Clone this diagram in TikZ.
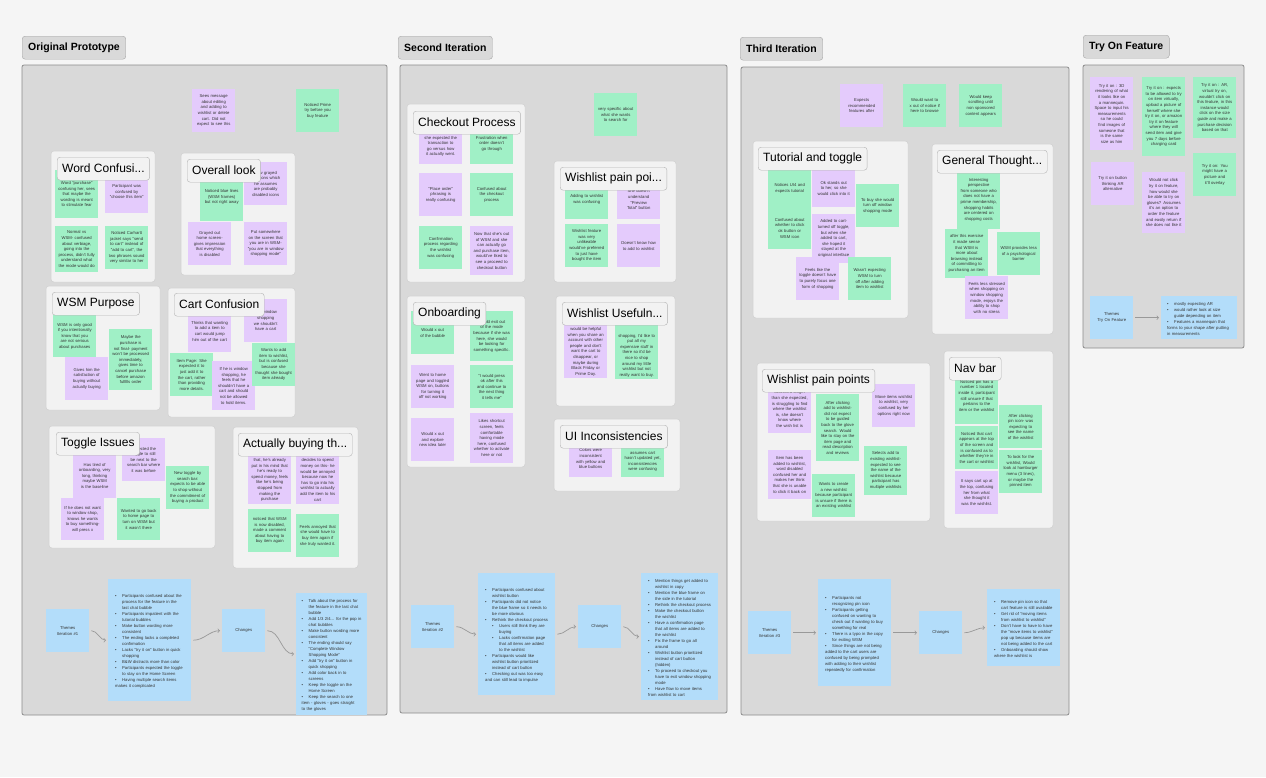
\documentclass[tikz,border=0pt]{standalone}
\usepackage{fontspec}
\setmainfont{Liberation Sans}

\definecolor{canvas}{HTML}{F5F5F5}
\definecolor{framegray}{HTML}{D9D9D9}
\definecolor{clustergray}{HTML}{F2F2F2}
\definecolor{notepurple}{HTML}{E4CBFC}
\definecolor{notegreen}{HTML}{A0F0C6}
\definecolor{noteblue}{HTML}{B3DDFA}

\hyphenpenalty=10000
\exhyphenpenalty=10000

% bullet items for the blue summary notes
\newcommand{\bitem}{\par\hangindent=7pt\hangafter=1\noindent\makebox[7pt][l]{\textbullet}}
\newcommand{\subbitem}{\par\hangindent=14pt\hangafter=1\noindent\hspace*{7pt}\makebox[7pt][l]{\textbullet}}
% text kept at the bottom of a note that sits under a cluster title
\newcommand{\lowtext}[2]{\parbox[c][#1][b]{37pt}{\centering #2}}

\begin{document}
\begin{tikzpicture}[
    x=1pt, y=-1pt,
    frame/.style={draw=black!45, fill=framegray, rounded corners=2pt, line width=0.8pt},
    cluster/.style={draw=black!18, fill=clustergray, rounded corners=3pt, line width=0.5pt},
    header/.style={anchor=north west, draw=black!35, fill=framegray, rounded corners=3pt,
        minimum height=23pt, inner xsep=6pt, font=\fontsize{10.5}{12}\selectfont\bfseries},
    clabel/.style={anchor=north west, draw=black!30, fill=clustergray, rounded corners=3pt,
        minimum height=23pt, inner xsep=5pt, font=\fontsize{12}{14}\selectfont},
    note/.style={anchor=north west, minimum width=43pt, minimum height=43pt, text width=37pt,
        inner xsep=3pt, inner ysep=2pt, align=center, font=\fontsize{4.2}{5.6}\selectfont, text=black!80},
    pnote/.style={note, fill=notepurple},
    gnote/.style={note, fill=notegreen},
    bnote/.style={note, fill=noteblue},
    blist/.style={anchor=north west, fill=noteblue, align=left, inner xsep=7pt,
        font=\fontsize{4.2}{6}\selectfont, text=black!80},
    link/.style={->, draw=black!40, line width=0.7pt, shorten <=2pt, shorten >=2pt}
]
\useasboundingbox (0,0) rectangle (1266,777);
\fill[canvas] (0,0) rectangle (1266,777);

%%%%%%%%%%%%%%%% Original Prototype
\draw[frame] (22,65) rectangle (387,715);
\node[header] (hA) at (22,36) {Original Prototype};

\node[pnote] (a1) at (192,89) {Sees message about editing and adding to wishlist or delete cart. Did not expect to see this};
\node[gnote] (a2) at (296,89) {Noticed Prime try before you buy feature};

% Word confusion
\draw[cluster] (51,151) rectangle (155,282);
\node[gnote, minimum height=48pt] (a3) at (55,170) {Word "purchase" confusing her, sees that maybe the wording is meant to stimulate fear};
\node[pnote] (a4) at (105,170) {Participant was confused by "choose this item"};
\node[gnote, minimum height=46pt] (a5) at (55,226) {Normal vs WSM- confused about verbiage, going into the process, didn't fully understand what the mode would do};
\node[gnote] (a6) at (105,226) {Noticed Carhartt jacket says "send to cart" instead of "add to cart", the two phrases sound very similar to her};
\node[clabel] (t1) at (57,157) {Word Confusi...};

% Overall look
\draw[cluster] (181,153) rectangle (295,275);
\node[gnote, minimum height=48pt] (a7) at (200,173) {Noticed blue lines (WSM frames) but not right away};
\node[pnote] (a8) at (244,162) {Saw grayed out icons which he assumes are probably disabled icons};
\node[pnote] (a9) at (188,222) {Grayed out home screen- gives impression that everything is disabled};
\node[pnote] (a10) at (244,222) {Put somewhere on the screen that you are in WSM- "you are in window shopping mode"};
\node[clabel] (t2) at (187,159) {Overall look};

% WSM purpose
\draw[cluster] (46,286) rectangle (160,410);
\node[gnote, minimum height=42pt] (a11) at (53,315) {WSM is only good if you intentionally know that you are not serious about purchases};
\node[pnote] (a12) at (65,357) {Gives him the satisfaction of buying without actually buying};
\node[gnote, minimum height=61pt] (a13) at (109,329) {Maybe the purchase is not final- payment won't be processed immediately, gives time to cancel purchase before amazon fulfills order};
\node[clabel] (t3) at (52,292) {WSM Purpose};

% Cart confusion
\draw[cluster] (168,288) rectangle (295,417);
\node[pnote, minimum height=42pt] (a14) at (188,310) {Thinks that wanting to add a item to cart would jump him out of the cart};
\node[pnote] (a15) at (244,299) {If in window shopping we shouldn't have a cart};
\node[gnote] (a16) at (170,353) {Item Page: She expected it to just add it to the cart, rather than providing more details.};
\node[pnote, minimum height=49pt] (a17) at (212,361) {If he is window shopping, he feels that he shouldn't have a cart and should not be allowed to hold items.};
\node[gnote] (a18) at (252,343) {Wants to add item to wishlist, but is confused because she thought she bought item already};
\node[clabel] (t4) at (174,293) {Cart Confusion};

% Toggle issues
\draw[cluster] (49,426) rectangle (215,548);
\node[pnote, minimum height=45pt] (a19) at (73,453) {Has tired of onboarding, very long, thinking maybe WSM is the baseline};
\node[pnote] (a20) at (122,438) {Expected the toggle to still be next to the search bar where it was before};
\node[gnote] (a21) at (166,466) {New toggle by search bar: expects to be able to shop without the commitment of buying a product};
\node[pnote, minimum height=42pt] (a22) at (61,498) {If he does not want to window shop, knows he wants to buy something- will press x};
\node[gnote, minimum height=42pt] (a23) at (117,498) {Wanted to go back to home page to turn on WSM but it wasn't there};
\node[clabel] (t5) at (56,432) {Toggle Issues};

% Actually buying
\draw[cluster] (233,427) rectangle (358,568);
\node[pnote, minimum height=71pt] (a24) at (248,433) {\lowtext{65pt}{that, he's already put in his mind that he's ready to spend money, feels like he's being stopped from making the purchase}};
\node[pnote, minimum height=71pt] (a25) at (296,433) {\lowtext{65pt}{decides to spend money on this- he would be annoyed because now he has to go into his wishlist to actually add the item to his cart}};
\node[gnote] (a26) at (248,509) {noticed that WSM is now disabled, made a comment about having to buy item again};
\node[gnote] (a27) at (296,514) {Feels annoyed that she would have to buy item again if she truly wanted it.};
\node[clabel] (t6) at (238,433) {Actually buying th...};

% Themes -> changes
\node[bnote] (ath) at (46,609) {Themes\\Iteration \#1};
\node[blist, text width=69pt, minimum height=122pt] (alist) at (108,579) {%
  \bitem Participants confused about the process for the feature in the last chat bubble
  \bitem Participants impatient with the tutorial bubbles
  \bitem Make button wording more consistent
  \bitem The ending lacks a completed confirmation
  \bitem Lacks "try it on" button in quick shopping
  \bitem B\&W distracts more than color
  \bitem Participants expected the toggle to stay on the Home Screen
  \bitem Having multiple search items makes it complicated};
\node[bnote] (achg) at (222,609) {Changes};
\node[blist, text width=60pt, inner xsep=5.5pt, minimum height=108pt] (aout) at (296,593) {%
  \bitem Talk about the process for the feature in the last chat bubble
  \bitem Add 1/3 2/4... for the pop in chat bubbles
  \bitem Make button wording more consistent
  \bitem The ending should say "Complete Window Shopping Mode"
  \bitem Add "try it on" button in quick shopping
  \bitem Add color back in to screens
  \bitem Keep the toggle on the Home Screen
  \bitem Keep the search to one item - gloves - goes straight to the gloves};
\draw[link] (ath.east) to[out=0,in=180] (alist.west);
\draw[link] (alist.east) to[out=0,in=180] (achg.west);
\draw[link] (achg.east) to[out=0,in=180] (aout.west);

%%%%%%%%%%%%%%%% Second Iteration
\draw[frame] (400,65) rectangle (727,713);
\node[header] (hB) at (398,36) {Second Iteration};

\node[gnote] (b1) at (594,93) {very specific about what she wants to search for};

% Checkout process
\draw[cluster] (407,104) rectangle (525,282);
\node[pnote, minimum height=41pt] (b2) at (419,123) {Gap between how she expected the transaction to go versus how it actually went.};
\node[gnote, minimum height=41pt] (b3) at (470,123) {Frustration when order doesn't go through};
\node[pnote] (b4) at (419,173) {"Place order" phrasing is really confusing};
\node[gnote] (b5) at (470,173) {Confused about the checkout process};
\node[gnote] (b6) at (419,226) {Confirmation process regarding the wishlist was confusing};
\node[pnote, minimum height=49pt] (b7) at (470,226) {Now that she's out of WSM and she can actually go and purchase item, would've liked to see a proceed to checkout button};
\node[clabel] (t7) at (413,111) {Checkout Process};

% Wishlist pain points
\draw[cluster] (554,161) rectangle (676,282);
\node[gnote, minimum height=39pt] (b8) at (565,180) {Adding to wishlist was confusing};
\node[pnote, minimum height=39pt] (b9) at (617,180) {She doesn't understand "Preview Total" button};
\node[gnote] (b10) at (565,224) {Wishlist feature was very unlikeable would've preferred to just have bought the item};
\node[pnote] (b11) at (617,224) {Doesn't know how to add to wishlist};
\node[clabel] (t8) at (560,167) {Wishlist pain poi...};

% Onboarding
\draw[cluster] (407,296) rectangle (525,467);
\node[gnote] (b12) at (411,311) {Would x out of the bubble};
\node[gnote, minimum height=50pt] (b13) at (470,311) {Would exit out of the mode because if she was here, she would be looking for something specific.};
\node[pnote] (b14) at (411,365) {Went to home page and toggled WSM on, buttons for turning it off not working};
\node[gnote] (b15) at (470,365) {"I would press ok after this and continue to the next thing it tells me"};
\node[pnote] (b16) at (411,418) {Would x out and explore new idea later};
\node[pnote, minimum height=50pt] (b17) at (470,413) {Likes shortcut screen, feels comfortable having mode here, confused whether to activate here or not};
\node[clabel] (t9) at (413,302) {Onboarding};

% Wishlist usefulness
\draw[cluster] (556,296) rectangle (675,406);
\node[pnote, minimum height=67pt] (b18) at (564,311) {\lowtext{62pt}{would be helpful when you share an account with other people and don't want the cart to disappear, or maybe during Black Friday or Prime Day.}};
\node[gnote, minimum height=68pt] (b19) at (615,311) {\lowtext{63pt}{shopping, I'd like to put all my expensive stuff in there so it'd be nice to shop around my little wishlist but not really want to buy.}};
\node[clabel] (t10) at (562,302) {Wishlist Usefuln...};

% UI inconsistencies
\draw[cluster] (554,419) rectangle (680,491);
\node[pnote, minimum height=37pt] (b20) at (569,440) {Colors were inconsistent with yellow and blue buttons};
\node[gnote, minimum height=37pt] (b21) at (621,440) {When she assumes cart hasn't updated yet, inconsistencies were confusing};
\node[clabel] (t11) at (560,425) {UI Inconsistencies};

% Themes -> changes
\node[bnote] (bth) at (411,605) {Themes\\Iteration \#2};
\node[blist, text width=63pt, minimum height=122pt] (blist) at (478,573) {%
  \bitem Participants confused about wishlist button
  \bitem Participants did not notice the blue frame so it needs to be more obvious
  \bitem Rethink the checkout process
  \subbitem Users still think they are buying
  \subbitem Lacks confirmation page that all items are added to the wishlist
  \bitem Participants would like wishlist button prioritized instead of cart button
  \bitem Checking out was too easy and can still lead to impulse};
\node[bnote] (bchg) at (578,605) {Changes};
\node[blist, text width=63pt, minimum height=122pt] (bout) at (641,573) {%
  \bitem Mention things get added to wishlist in copy
  \bitem Mention the blue frame on the side in the tutorial
  \bitem Rethink the checkout process
  \bitem Make the checkout button the wishlist
  \bitem Have a confirmation page that all items are added to the wishlist
  \bitem Fix the frame to go all around
  \bitem Wishlist button prioritized instead of cart button (hidden)
  \bitem To proceed to checkout you have to exit window shopping mode
  \bitem Have flow to move items from wishlist to cart};
\draw[link] (bth.east) to[out=0,in=180] (blist.west);
\draw[link] (blist.east) to[out=0,in=180] (bchg.west);
\draw[link] (bchg.east) to[out=0,in=180] (bout.west);

%%%%%%%%%%%%%%%% Third Iteration
\draw[frame] (741,67) rectangle (1069,715);
\node[header] (hC) at (740,37) {Third Iteration};

\node[pnote] (c1) at (840,84) {Expects recommended features after};
\node[gnote] (c2) at (903,84) {Would want to x out of notice if here to browse};
\node[gnote] (c3) at (959,84) {Would keep scrolling until non sponsored content appears};

% Tutorial and toggle
\draw[cluster] (753,141) rectangle (908,318);
\node[gnote, minimum height=38pt] (c4) at (768,169) {Notices UI4 and expects tutorial};
\node[gnote, minimum height=42pt] (c5) at (768,207) {Confused about whether to click ok button or WSM icon};
\node[pnote, minimum height=38pt] (c6) at (812,169) {Ok stands out to her, so she would click into it};
\node[gnote] (c7) at (856,184) {To buy she would turn off window shopping mode};
\node[pnote, minimum height=49pt] (c8) at (812,214) {Added to cart- turned off toggle, but when she added to cart, she hoped it stayed at the original interface};
\node[pnote] (c9) at (796,257) {Feels like the toggle doesn't have to purely focus one form of shopping};
\node[gnote] (c10) at (848,257) {Wasn't expecting WSM to turn off after adding item to wishlist};
\node[clabel] (t12) at (758,147) {Tutorial and toggle};

% General thoughts
\draw[cluster] (932,144) rectangle (1053,334);
\node[gnote, minimum height=59pt] (c11) at (957,170) {Interesting perspective from someone who does not have a prime membership, shopping habits are centered on shopping costs};
\node[gnote, minimum height=49pt] (c12) at (945,229) {after this exercise it made sense that WSM is more about browsing instead of committing to purchasing an item};
\node[gnote] (c13) at (997,232) {WSM provides less of a psychological barrier};
\node[pnote] (c14) at (965,276) {Feels less stressed when shopping on window shopping mode, enjoys the ability to shop with no stress};
\node[clabel] (t13) at (937,150) {General Thought...};

% Wishlist pain points
\draw[cluster] (757,363) rectangle (930,521);
\node[pnote, minimum height=48pt] (c15) at (768,385) {Searched longer than she expected, is struggling to find where the wishlist is, she doesn't know where the wish list is};
\node[gnote, minimum height=67pt] (c16) at (816,394) {After clicking add to wishlist- did not expect to be guided back to the glove search. Would like to stay on the item page and read description and reviews};
\node[pnote] (c17) at (872,384) {Move items wishlist to wishlist, very confused by her options right now};
\node[pnote, minimum height=49pt] (c18) at (768,450) {Item has been added to wishlist, word disabled confused her and makes her think that she is unable to click it back on};
\node[gnote, minimum height=49pt] (c20) at (864,446) {Selects add to existing wishlist- expected to see the name of the wishlist because participant has multiple wishlists};
\node[gnote] (c19) at (812,474) {Wants to create a new wishlist because participant is unsure if there is an existing wishlist};
\node[clabel] (t14) at (762,369) {Wishlist pain points};

% Nav bar
\draw[cluster] (944,351) rectangle (1053,528);
\node[gnote, minimum height=57pt] (c21) at (955,367) {Noticed pin has a number 1 located inside it, participant still unsure if that pertains to the item or the wishlist};
\node[gnote] (c22) at (999,405) {After clicking pin icon- was expecting to see the name of the wishlist};
\node[gnote] (c23) at (955,426) {Noticed that cart appears at the top of the screen and is confused as to whether they're in the cart or wishlist};
\node[gnote] (c24) at (999,450) {To look for the wishlist, Would look at hamburger menu (3 lines), or maybe the pinned item};
\node[pnote] (c25) at (955,471) {It says cart up at the top, confusing her from what she thought it was the wishlist.};
\node[clabel] (t15) at (949,357) {Nav bar};

% Themes -> changes
\node[bnote] (cth) at (748,611) {Themes\\Iteration \#3};
\node[blist, text width=59pt, minimum height=107pt] (clist) at (818,579) {%
  \bitem Participants not recognizing pin icon
  \bitem Participants getting confused on wanting to check out if wanting to buy something for real
  \bitem There is a typo in the copy for exiting WSM
  \bitem Since things are not being added to the cart users are confused by being prompted with adding to their wishlist repeatedly for confirmation};
\node[bnote] (cchg) at (919,611) {Changes};
\node[blist, text width=59pt, minimum height=77pt] (cout) at (987,589) {%
  \bitem Remove pin icon so that cart feature is still available
  \bitem Get rid of "moving items from wishlist to wishlist"
  \bitem Don't have to have to have the "move items to wishlist" pop up because items are not being added to the cart
  \bitem Onboarding should show where the wishlist is};
\draw[link] (cth.east) to[out=0,in=180] (clist.west);
\draw[link] (clist.east) to[out=0,in=180] (cchg.west);
\draw[link] (cchg.east) to[out=0,in=180] (cout.west);

%%%%%%%%%%%%%%%% Try On Feature
\draw[frame] (1083,65) rectangle (1244,348);
\node[header] (hD) at (1083,35) {Try On Feature};

\node[pnote, minimum height=73pt] (d1) at (1090,77) {Try it on : 3D rendering of what it looks like on a mannequin. Space to input his measurements so he could find images of someone that is the same size as him};
\node[gnote, minimum height=79pt] (d2) at (1142,77) {Try it on : expects to be allowed to try on item virtually, upload a picture of herself where she try it on, or amazon try it on feature where they will send item and give you 7 days before charging card};
\node[gnote, minimum height=61pt] (d3) at (1193,77) {Try it on : AR, virtual try on, wouldn't click on this feature, in this instance would click on the size guide and make a purchase decision based on that};
\node[pnote] (d4) at (1091,162) {Try it on button thinking AR alternative};
\node[pnote, minimum height=61pt] (d5) at (1142,172) {Would not click try it on feature, how would she be able to try on gloves? Assumes it's an option to order the feature and easily return if she does not like it};
\node[gnote] (d6) at (1193,153) {Try it on: You might have a picture and it'll overlay};

\node[bnote] (dth) at (1090,296) {Themes\\Try On Feature};
\node[blist, text width=64pt, minimum height=43pt, inner xsep=6pt] (dlist) at (1161,296) {%
  \bitem mostly expecting AR
  \bitem would rather look at size guide depending on item
  \bitem Features a mannequin that forms to your shape after putting in measurements};
\draw[link] (dth.east) -- (dlist.west);
\end{tikzpicture}
\end{document}
